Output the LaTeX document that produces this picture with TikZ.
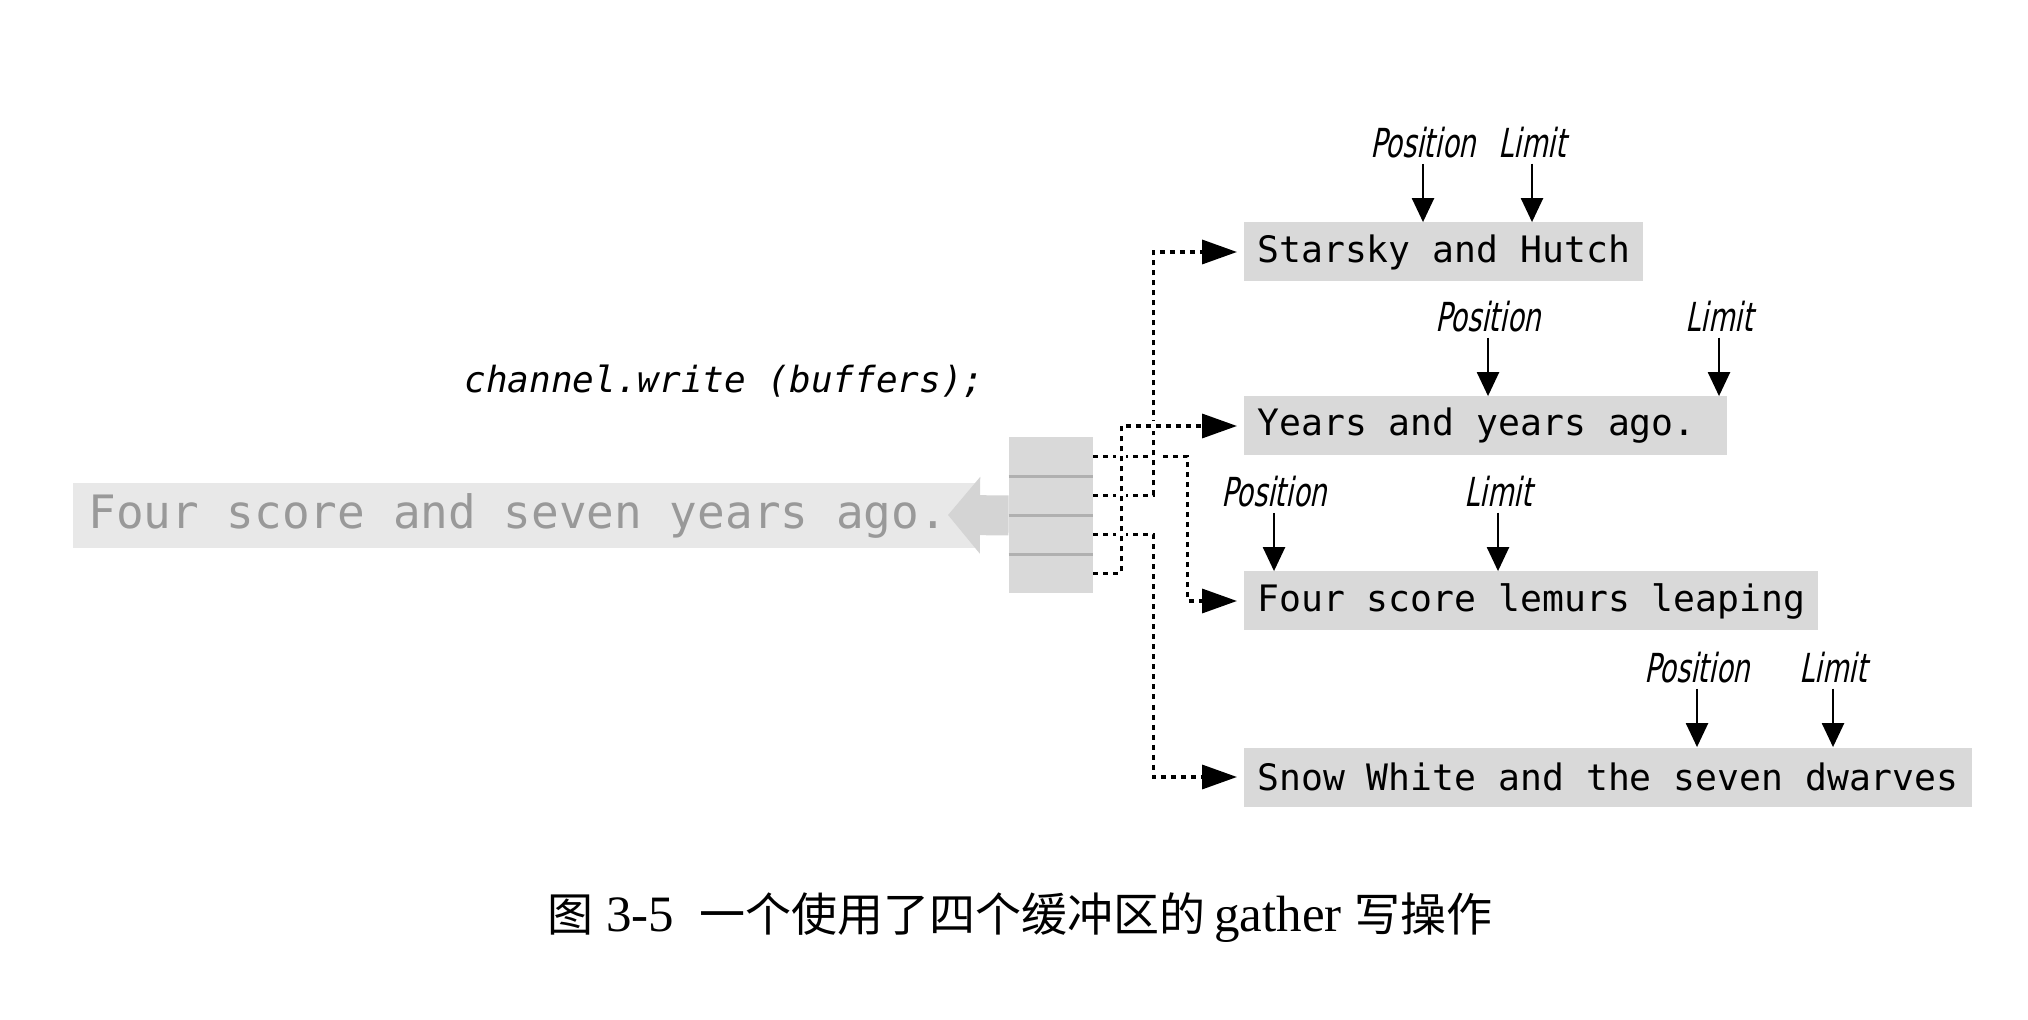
\documentclass[tikz,border=0pt]{standalone}
\usepackage{fontspec}
\usepackage{tikz}
\usetikzlibrary{arrows.meta,calc}
\setmainfont{Liberation Serif}
\newfontfamily\cjkfont{Noto Sans CJK SC}
\newfontfamily\monofont{DejaVu Sans Mono}
\newfontfamily\labelfont[FakeStretch=0.68,FakeSlant=0.2]{DejaVu Sans}
\definecolor{bufgray}{HTML}{D9D9D9}
\definecolor{bandgray}{HTML}{E8E8E8}
\definecolor{flowgray}{HTML}{D4D4D4}
\definecolor{rulegray}{HTML}{B0B0B0}
\definecolor{srctext}{HTML}{999999}
\tikzset{
  buf/.style={fill=bufgray,anchor=west,minimum height=29.5pt,inner xsep=6.5pt,inner ysep=0pt,
    font=\monofont\fontsize{18.2}{20}\selectfont},
  cell/.style={fill=bufgray,minimum width=42pt,minimum height=19.5pt,inner sep=0pt},
  ptrlabel/.style={inner sep=0pt,font=\labelfont\fontsize{20}{22}\selectfont},
  ptr/.style={-{Triangle[length=12pt,width=11pt]},line width=1.2pt,shorten <=3pt},
  link/.style={line width=1.75pt,dash pattern=on 2.5pt off 2.5pt,
    -{Triangle[length=17.5pt,width=12pt]},shorten >=3.5pt},
  bridge/.style={preaction={draw=white,solid,line width=5pt,-}},
}
\newcommand\cjk[1]{{\cjkfont\fontsize{23}{25}\selectfont #1}}
\begin{document}
\begin{tikzpicture}[x=0.5pt,y=-0.5pt]
\useasboundingbox (0,0) rectangle (2028,1020);
\node[anchor=west,fill=bandgray,text=srctext,minimum height=32.5pt,inner xsep=7.5pt,inner ysep=0pt,
  font=\monofont\fontsize{23}{25}\selectfont] (src) at (73,515.5) {Four score and seven years ago.\hspace*{8pt}};
\coordinate (tip) at (948,515);
\foreach \i in {1,...,4}
  \node[cell] (c\i) at (1051,417.5+39*\i) {};
\draw[flowgray,line width=20pt,-{Triangle[length=16pt,width=37.5pt]}] (c2.south west) -- (tip);
\foreach \i in {1,...,4}
  \node[cell] at (c\i) {};
\foreach \c in {c1,c2,c3}
  \draw[rulegray,line width=1.5pt] (\c.south west) -- (\c.south east);
\node[anchor=base east,inner sep=0pt,font=\monofont\itshape\fontsize{18}{20}\selectfont] (call) at (985,393) {channel.write (buffers);};
\node[buf] (b1) at (1244,252) {Starsky and Hutch};
\node[buf] (b2) at (1244,426) {Years and years ago.\hspace*{9pt}};
\node[buf] (b3) at (1244,601) {Four score lemurs leaping};
\node[buf] (b4) at (1244,777) {Snow White and the seven dwarves};
\foreach \b/\p/\l in {b1/1423/1532,b2/1488/1719,b3/1274/1498,b4/1697/1833}{
  \node[ptrlabel] (p\b) at ($(\b.north -| \p,0)+(0,-80)$) {Position};
  \node[ptrlabel] (l\b) at ($(\b.north -| \l,0)+(0,-80)$) {Limit};
  \draw[ptr] (p\b) -- (p\b |- \b.north);
  \draw[ptr] (l\b) -- (l\b |- \b.north);
}
\draw[link] (c1.east) -- ++(94,0) |- (b3.west);
\draw[link] (c3.east) -- ++(60,0) |- (b4.west);
\draw[link,bridge] (c2.east) -- ++(60,0) |- (b1.west);
\draw[link,bridge] (c4.east) -- ++(28,0) |- (b2.west);
\node[font=\fontsize{25.5}{27}\selectfont] (cap) at (1020,918)
  {\cjk{图}\ 3-5\ \ \cjk{一个使用了四个缓冲区的}\,gather\ \cjk{写操作}};
\end{tikzpicture}
\end{document}
